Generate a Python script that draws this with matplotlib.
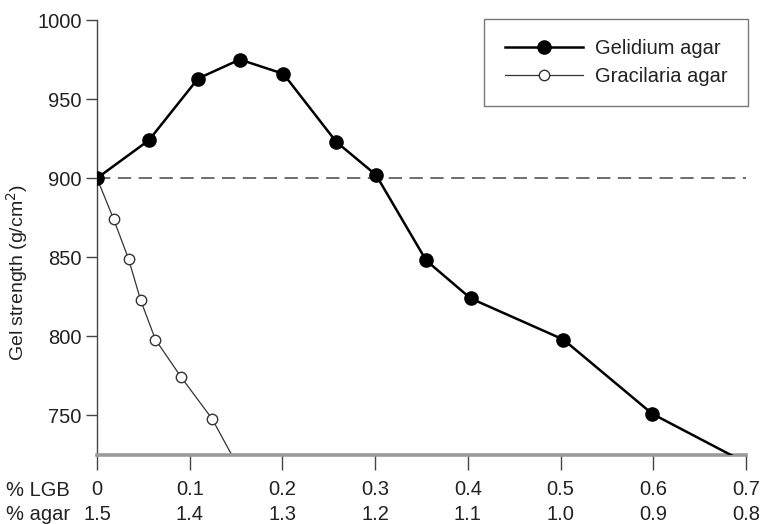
import matplotlib
matplotlib.use("Agg")
import matplotlib.pyplot as plt
from matplotlib.transforms import blended_transform_factory

plt.rcParams['font.family'] = ['Liberation Sans', 'DejaVu Sans']

# Data
lgb_ticks = [0, 0.1, 0.2, 0.3, 0.4, 0.5, 0.6, 0.7]
lgb_labels = ["0", "0.1", "0.2", "0.3", "0.4", "0.5", "0.6", "0.7"]
agar_labels = ["1.5", "1.4", "1.3", "1.2", "1.1", "1.0", "0.9", "0.8"]

gelidium_x = [0.0, 0.056, 0.109, 0.154, 0.201, 0.258, 0.301, 0.355, 0.403, 0.503, 0.599, 0.70]
gelidium_y = [900, 924, 963, 975, 966, 923, 902, 848, 824, 798, 751, 720]

gracilaria_x = [0.0, 0.018, 0.034, 0.047, 0.063, 0.091, 0.124, 0.15]
gracilaria_y = [900, 874, 849, 823, 798, 774, 748, 720]

reference_level = 900

W, H = 765, 524
FS = 14.5
TXT = '#222222'

fig = plt.figure(figsize=(W/100, H/100), dpi=100)
ax = fig.add_axes([97/W, 1-455/H, (746-97)/W, (455-20)/H])

ax.axhline(reference_level, color='#555555', lw=1.2, ls=(0, (8, 4.5)), zorder=1)

ax.plot(gracilaria_x, gracilaria_y, '-o', color='#333333', lw=0.9,
        markersize=7.5, markerfacecolor='white', markeredgecolor='#333333',
        markeredgewidth=1.0, label='Gracilaria agar', zorder=2)
ax.plot(gelidium_x, gelidium_y, '-o', color='black', lw=1.8,
        markersize=9.5, markerfacecolor='black', markeredgecolor='black',
        label='Gelidium agar', zorder=3)

ax.set_xlim(0, 0.7)
ax.set_ylim(725, 1000)
ax.set_yticks([750, 800, 850, 900, 950, 1000])
ax.set_yticklabels(["750", "800", "850", "900", "950", "1000"], fontsize=FS, color=TXT)
ax.set_xticks(lgb_ticks)
ax.set_xticklabels(lgb_labels, fontsize=FS, color=TXT)

# second row of x tick labels (% agar)
trans = blended_transform_factory(ax.transData, fig.transFigure)
for xv, lab in zip(lgb_ticks, agar_labels):
    ax.text(xv, 1-514/H, lab, transform=trans, ha='center', va='center',
            fontsize=FS, color=TXT, clip_on=False)

for s in ['top', 'right']:
    ax.spines[s].set_visible(False)
ax.spines['left'].set_color('#444444')
ax.spines['left'].set_linewidth(1.0)
ax.spines['bottom'].set_color('#9a9a9a')
ax.spines['bottom'].set_linewidth(2.6)

ax.tick_params(axis='y', direction='out', length=8, width=1.0, color='#444444', pad=3)
ax.tick_params(axis='x', direction='out', length=11, width=1.0, color='#444444', pad=7)

# y-axis title
fig.text(17/W, 1-272/H, "Gel strength (g/cm$^2$)", fontsize=14, color=TXT,
         rotation=90, ha='center', va='center')

fig.text(6/W, 1-490/H, "% LGB", fontsize=FS, color=TXT, ha='left', va='center')
fig.text(6/W, 1-514/H, "% agar", fontsize=FS, color=TXT, ha='left', va='center')

handles, labels = ax.get_legend_handles_labels()
leg = ax.legend(handles[::-1], labels[::-1], loc='upper right', fontsize=FS,
                frameon=True, fancybox=False, edgecolor='#555555',
                borderpad=1.0, handlelength=3.9, handletextpad=0.6,
                labelspacing=0.45, borderaxespad=0,
                bbox_to_anchor=(748/W, 1-19/H), bbox_transform=fig.transFigure)
leg.get_frame().set_linewidth(1.0)
for t in leg.get_texts():
    t.set_color(TXT)

fig.savefig("out.png", dpi=100, facecolor='white')
